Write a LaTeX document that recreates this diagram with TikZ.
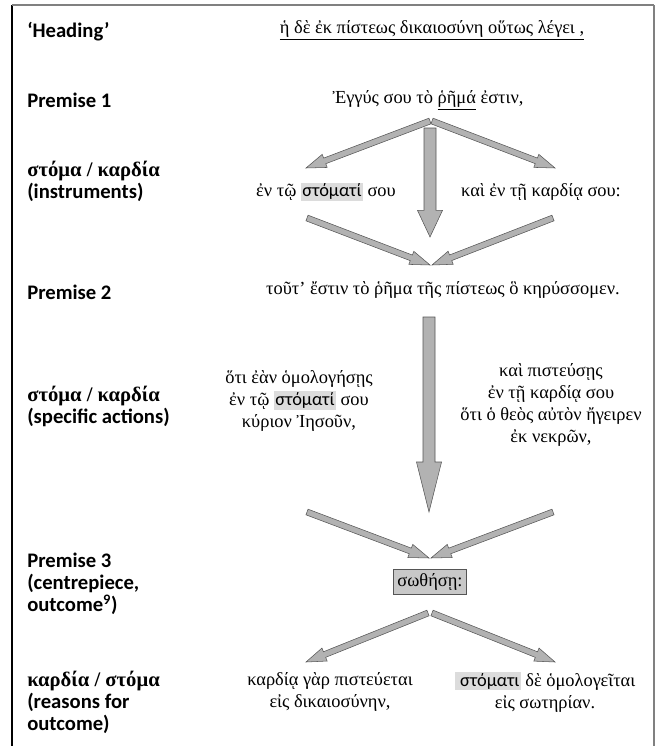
\documentclass[tikz,border=0pt]{standalone}
\usepackage{fontspec}
\setmainfont{Liberation Serif}
\newfontfamily\lblfont{Carlito}
\usetikzlibrary{calc}
\definecolor{arrowgray}{RGB}{178,178,178}
\definecolor{edgegray}{RGB}{85,85,85}
\definecolor{markgray}{RGB}{220,220,220}
\definecolor{boxgray}{RGB}{200,200,200}
\newcommand\grayword[1]{{\setlength{\fboxsep}{1pt}\colorbox{markgray}{\lblfont #1}}}
% from, to, shaft half width, head half width, head length
\newcommand\blockarrow[5]{%
  \coordinate (hb) at ($(#2)!#5!(#1)$);
  \filldraw[arr] ($(#1)!#3!90:(#2)$) -- ($(hb)!#3!90:(#2)$) -- ($(hb)!#4!90:(#2)$) -- (#2)
    -- ($(hb)!#4!-90:(#2)$) -- ($(hb)!#3!-90:(#2)$) -- ($(#1)!#3!-90:(#2)$) -- cycle;}

\begin{document}
\begin{tikzpicture}[x=.75pt, y=-.75pt,
  lbl/.style={anchor=west, align=left, inner sep=0pt, font=\lblfont\bfseries\fontsize{15.5}{16.5}\selectfont},
  grk/.style={align=center, inner sep=0pt, font=\fontsize{13.8}{16.5}\selectfont},
  arr/.style={fill=arrowgray, draw=edgegray, line width=.4pt, line join=miter}]
\useasboundingbox (0,0) rectangle (660,746);
\draw[line width=.8pt] (12,5)--(12,746);
\draw[gray, line width=1pt] (12,5)--(654,5);
\draw[gray, line width=1.6pt] (654,5)--(654,746);

\node[lbl] (lhead) at (27,32) {‘Heading’};
\node[lbl] (lprem1) at (27,100) {Premise 1};
\node[lbl] (linstr) at (27,181) {{\rmfamily στόμα / καρδία}\\(instruments)};
\node[lbl] (lprem2) at (27,292) {Premise 2};
\node[lbl] (lacts) at (27,406) {{\rmfamily στόμα / καρδία}\\(specific actions)};
\node[lbl] (lprem3) at (27,584) {Premise 3\\(centrepiece,\\outcome\textsuperscript{9})};
\node[lbl] (lreason) at (27,702) {{\rmfamily καρδία / στόμα}\\(reasons for\\outcome)};

\node[grk] (head) at (432,30) {\underline{ἡ δὲ ἐκ πίστεως δικαιοσύνη οὕτως λέγει ,}};
\node[grk] (prem1) at (428,100) {Ἐγγύς σου τὸ \underline{ῥῆμά} ἐστιν,};
\node[grk] (mouth1) at (326,192) {ἐν τῷ \grayword{στόματί} σου};
\node[grk] (heart1) at (541,192) {καὶ ἐν τῇ καρδίᾳ σου:};
\node[grk] (prem2) at (443,290) {τοῦτ' ἔστιν τὸ ῥῆμα τῆς πίστεως ὃ κηρύσσομεν.};
\node[grk] (mouth2) at (299,401) {ὅτι ἐὰν ὁμολογήσῃς\\ἐν τῷ \grayword{στόματί} σου\\κύριον Ἰησοῦν,};
\node[grk] (heart2) at (551,405) {καὶ πιστεύσῃς\\ἐν τῇ καρδίᾳ σου\\ὅτι ὁ θεὸς αὐτὸν ἤγειρεν\\ἐκ νεκρῶν,};
\node[grk, draw=edgegray, fill=boxgray, inner xsep=3pt, inner ysep=3pt] (saved) at (430,582) {σωθήσῃ:};
\node[grk] (heart3) at (330,692) {καρδίᾳ γὰρ πιστεύεται\\εἰς δικαιοσύνην,};
\node[grk] (mouth3) at (545,692) {\grayword{ στόματι} δὲ ὁμολογεῖται\\εἰς σωτηρίαν.};

\coordinate (s1) at (430,121); \coordinate (s2) at (432,121);
\coordinate (t1) at (306,168); \coordinate (t2) at (555,168);
\coordinate (c1) at (430,128); \coordinate (c2) at (430,237);
\coordinate (u1) at (307,218); \coordinate (u2) at (553,218);
\coordinate (m1) at (430,265); \coordinate (m2) at (432,265);
\coordinate (d1) at (429,317); \coordinate (d2) at (429,512);
\coordinate (v1) at (307,512); \coordinate (v2) at (553,512);
\coordinate (w1) at (429,558); \coordinate (w2) at (431,558);
\coordinate (r1) at (428,613); \coordinate (r2) at (432,613);
\coordinate (e1) at (306,662); \coordinate (e2) at (555,662);

\blockarrow{s1}{t1}{2.25pt}{5.25pt}{15pt}
\blockarrow{s2}{t2}{2.25pt}{5.25pt}{15pt}
\blockarrow{c1}{c2}{4.5pt}{9.4pt}{20pt}
\blockarrow{u1}{m1}{2.25pt}{5.25pt}{15pt}
\blockarrow{u2}{m2}{2.25pt}{5.25pt}{15pt}
\blockarrow{d1}{d2}{4.5pt}{9.4pt}{37.5pt}
\blockarrow{v1}{w1}{2.25pt}{5.25pt}{15pt}
\blockarrow{v2}{w2}{2.25pt}{5.25pt}{15pt}
\blockarrow{r1}{e1}{2.25pt}{5.25pt}{15pt}
\blockarrow{r2}{e2}{2.25pt}{5.25pt}{15pt}
\end{tikzpicture}
\end{document}
